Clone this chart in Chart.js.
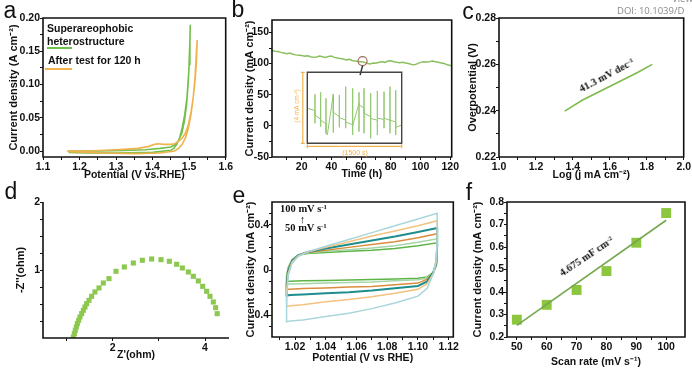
<!DOCTYPE html>
<html>
<head>
<meta charset="utf-8">
<script src="https://cdn.jsdelivr.net/npm/chart.js@4.4.1/dist/chart.umd.min.js"></script>
<style>
  body { margin: 0; width: 692px; height: 368px; overflow: hidden; position: relative; background: #fff;
         font-family: "Liberation Sans", Arial, sans-serif; }
  canvas { position: absolute; }
  .n { position: absolute; white-space: nowrap; line-height: 1; color: #111; }
  .sup { font-size: 65%; vertical-align: 0.5em; }
</style>
</head>
<body>
<script>
// ---------- data ----------
// a: LSV curves (potential V vs RHE, current A cm-2), forward then back
const aGreenV = [1.17, 1.25, 1.32, 1.38, 1.42, 1.45, 1.46, 1.47, 1.48, 1.487, 1.493, 1.497, 1.5, 1.502, 1.503,
                 1.502, 1.499, 1.494, 1.488, 1.481, 1.474, 1.466, 1.458, 1.45, 1.40, 1.30, 1.22, 1.17];
const aGreenJ = [0.000, 0.000, 0.001, 0.002, 0.004, 0.006, 0.009, 0.015, 0.027, 0.045, 0.070, 0.100, 0.130, 0.160, 0.190,
                 0.165, 0.120, 0.080, 0.055, 0.035, 0.020, 0.010, 0.004, 0.001, -0.002, -0.003, -0.003, -0.002];
const aOrangeV = [1.165, 1.22, 1.30, 1.36, 1.39, 1.405, 1.415, 1.43, 1.45, 1.46, 1.47, 1.48, 1.49, 1.498, 1.505, 1.511, 1.516, 1.52, 1.522,
                  1.52, 1.516, 1.511, 1.505, 1.498, 1.49, 1.481, 1.471, 1.46, 1.42, 1.35, 1.26, 1.17];
const aOrangeJ = [0.000, 0.000, 0.002, 0.004, 0.007, 0.010, 0.011, 0.010, 0.010, 0.011, 0.014, 0.019, 0.027, 0.040, 0.058, 0.080, 0.105, 0.135, 0.167,
                  0.150, 0.110, 0.080, 0.055, 0.035, 0.020, 0.010, 0.004, 0.000, -0.003, -0.004, -0.003, -0.001];

// b: chronopotentiometry (time h, current mA cm-2)
const bTime = [0, 2, 4, 6, 8, 10, 12, 14, 16, 18, 20, 22, 24, 26, 28, 30, 32, 34, 36, 38, 40, 42, 44, 46, 48, 50,
               52, 54, 56, 58, 60, 62, 64, 66, 68, 70, 72, 74, 76, 78, 80, 82, 84, 86, 88, 90, 92, 94, 96, 98, 100,
               102, 104, 106, 108, 110, 112, 114, 116, 118, 120, 121];
const bCurrent = [121, 120, 119.5, 118, 117, 116, 117, 115, 114, 113.5, 113, 112, 112.5, 111, 110, 110.5, 112, 111, 110, 111.5, 112,
                  110, 109, 108, 107.5, 106, 107, 105, 104, 103.5, 103, 102, 100.5, 99.5, 101, 100.5, 102, 103, 102, 104, 104.5,
                  103, 102, 101.5, 102, 101, 100, 98.5, 98, 100, 102, 103, 102.5, 103, 104, 103, 102, 101, 100, 98, 97, 96.5];
const bMark = [61, 104];
// b inset: 1500 s window, 4 mA cm-2 span
const insetT = [0, 122, 122, 122, 122, 212, 212, 212, 212, 297, 297, 297, 318, 413, 413, 413, 509, 509, 509, 509,
                610, 610, 610, 610, 721, 721, 721, 721, 822, 822, 822, 822, 901, 901, 901, 901, 1007, 1007, 1007, 1007,
                1113, 1113, 1113, 1113, 1219, 1219, 1219, 1219, 1314, 1314, 1314, 1314, 1405, 1405, 1405, 1405, 1500];
const insetJ = [1.97, 1.85, 2.76, 1.13, 1.6, 1.35, 2.87, 0.94, 1.3, 1.1, 2.54, 0.56, 0.47, 2.76, 0.6, 1.75, 1.5, 2.72, 0.9, 1.45,
                1.3, 3.19, 0.85, 1.2, 1.05, 3.1, 0.47, 1.0, 2.25, 2.87, 0.66, 2.16, 2.0, 3.1, 0.56, 1.69, 1.5, 2.82, 0.28, 1.4,
                1.3, 2.95, 0.47, 1.41, 1.35, 2.91, 0.85, 1.41, 1.3, 3.19, 0.56, 1.3, 1.2, 3.0, 0.47, 0.9, 1.03];

// c: Tafel (log j, overpotential V)
const cLogJ = [1.356, 1.45, 1.55, 1.65, 1.75, 1.83];
const cEta = [0.2398, 0.2445, 0.2485, 0.2525, 0.2565, 0.2600];

// d: Nyquist (Z' ohm, -Z'' ohm)
const dRe = [1.147, 1.169, 1.19, 1.212, 1.234, 1.263, 1.291, 1.328, 1.364, 1.40, 1.436, 1.486, 1.544, 1.616, 1.703, 1.797,
             1.92, 2.072, 2.252, 2.447, 2.642, 2.844, 3.047, 3.227, 3.386, 3.509, 3.639, 3.747, 3.855, 3.95, 4.036, 4.108,
             4.18, 4.23, 4.264];
const dIm = [0.015, 0.064, 0.113, 0.162, 0.211, 0.26, 0.309, 0.358, 0.407, 0.456, 0.505, 0.554, 0.613, 0.677, 0.736, 0.809,
             0.873, 0.981, 1.045, 1.103, 1.143, 1.162, 1.152, 1.128, 1.084, 1.03, 0.971, 0.907, 0.839, 0.76, 0.687, 0.613,
             0.53, 0.446, 0.358];

// e: CV loops at 50-100 mV s-1 (potential V, current mA cm-2)
const eV = [1.0147, 1.0145, 1.0155, 1.018, 1.022, 1.028, 1.04, 1.055, 1.07, 1.085, 1.10, 1.1125,
            1.1125, 1.112, 1.110, 1.106, 1.10, 1.085, 1.07, 1.055, 1.04, 1.025, 1.017, 1.0147];
const eJ100 = [-0.455, -0.25, -0.05, 0.06, 0.12, 0.16, 0.21, 0.27, 0.33, 0.39, 0.45, 0.50,
               0.30, 0.10, -0.03, -0.16, -0.23, -0.29, -0.34, -0.38, -0.41, -0.44, -0.45, -0.455];
const eJ90 = [-0.32, -0.18, -0.03, 0.07, 0.125, 0.16, 0.20, 0.25, 0.30, 0.345, 0.39, 0.435,
              0.25, 0.08, -0.03, -0.12, -0.17, -0.205, -0.235, -0.26, -0.28, -0.305, -0.315, -0.32];
const eJ80 = [-0.225, -0.13, -0.01, 0.08, 0.13, 0.16, 0.19, 0.225, 0.26, 0.295, 0.335, 0.37,
              0.22, 0.07, -0.02, -0.10, -0.14, -0.16, -0.18, -0.195, -0.205, -0.215, -0.22, -0.225];
const eJ70 = [-0.17, -0.10, 0.0, 0.08, 0.13, 0.155, 0.175, 0.20, 0.225, 0.25, 0.285, 0.32,
              0.20, 0.06, -0.02, -0.08, -0.115, -0.13, -0.145, -0.15, -0.158, -0.163, -0.168, -0.17];
const eJ60 = [-0.125, -0.07, 0.01, 0.085, 0.13, 0.15, 0.165, 0.18, 0.195, 0.215, 0.245, 0.275,
              0.18, 0.05, -0.02, -0.07, -0.085, -0.095, -0.105, -0.11, -0.115, -0.12, -0.123, -0.125];
const eJ50 = [-0.10, -0.05, 0.02, 0.09, 0.13, 0.145, 0.155, 0.165, 0.175, 0.19, 0.215, 0.24,
              0.16, 0.04, -0.02, -0.06, -0.072, -0.078, -0.084, -0.088, -0.092, -0.095, -0.098, -0.10];

// f: current density vs scan rate
const fRate = [50, 60, 70, 80, 90, 100];
const fCurrent = [0.277, 0.343, 0.409, 0.493, 0.619, 0.751];
const fFitRate = [50, 100];
const fFitCurrent = [0.252, 0.719];

// tick values and labels
const aXTicks = [1.1, 1.15, 1.2, 1.25, 1.3, 1.35, 1.4, 1.45, 1.5, 1.55, 1.6];
const aXLabels = ['1.1', '', '1.2', '', '1.3', '', '1.4', '', '1.5', '', '1.6'];
const aYTicks = [0, 0.025, 0.05, 0.075, 0.1, 0.125, 0.15, 0.175, 0.2];
const aYLabels = ['0.00', '', '0.05', '', '0.10', '', '0.15', '', '0.20'];
const bXTicks = [10, 20, 30, 40, 50, 60, 70, 80, 90, 100, 110, 120];
const bXLabels = ['', '20', '', '40', '', '60', '', '80', '', '100', '', '120'];
const bYTicks = [-50, -25, 0, 25, 50, 75, 100, 125, 150];
const bYLabels = ['-50', '', '0', '', '50', '', '100', '', '150'];
const cXTicks = [1.0, 1.1, 1.2, 1.3, 1.4, 1.5, 1.6, 1.7, 1.8, 1.9, 2.0];
const cXLabels = ['1.0', '', '1.2', '', '1.4', '', '1.6', '', '1.8', '', '2.0'];
const cYTicks = [0.22, 0.23, 0.24, 0.25, 0.26, 0.27, 0.28];
const cYLabels = ['0.22', '', '0.24', '', '0.26', '', '0.28'];
const dXTicks = [1, 2, 3, 4];
const dXLabels = ['', '2', '', '4'];
const dYTicks = [0.25, 0.5, 0.75, 1, 1.25, 1.5, 1.75, 2];
const dYLabels = ['', '', '', '1', '', '', '', '2'];
const eXTicks = [1.01, 1.02, 1.03, 1.04, 1.05, 1.06, 1.07, 1.08, 1.09, 1.10, 1.11, 1.12];
const eXLabels = ['', '1.02', '', '1.04', '', '1.06', '', '1.08', '', '1.10', '', '1.12'];
const eYTicks = [-0.5, -0.4, -0.3, -0.2, -0.1, 0, 0.1, 0.2, 0.3, 0.4, 0.5];
const eYLabels = ['', '-0.4', '', '', '', '0', '', '', '', '0.4', ''];
const fXTicks = [50, 55, 60, 65, 70, 75, 80, 85, 90, 95, 100];
const fXLabels = ['50', '', '60', '', '70', '', '80', '', '90', '', '100'];
const fYTicks = [0.2, 0.25, 0.3, 0.35, 0.4, 0.45, 0.5, 0.55, 0.6, 0.65, 0.7, 0.75, 0.8];
const fYLabels = ['0.2', '', '0.3', '', '0.4', '', '0.5', '', '0.6', '', '0.7', '', '0.8'];

// ---------- helpers ----------
Chart.defaults.font.family = '"Liberation Sans", Arial, sans-serif';
Chart.defaults.color = '#111';
const tickFamily = '"Liberation Sans Narrow", "Liberation Sans", Arial, sans-serif';

// frame around the plot area (d only has left + bottom axes)
Chart.register({
  id: 'boxFrame',
  afterDraw(chart, args, opts) {
    const a = chart.chartArea, ctx = chart.ctx;
    ctx.save();
    ctx.strokeStyle = opts.color || '#111';
    ctx.lineWidth = opts.width || 1.6;
    ctx.beginPath();
    if (opts.open) {
      ctx.moveTo(a.left, a.top); ctx.lineTo(a.left, a.bottom); ctx.lineTo(a.right, a.bottom);
    } else {
      ctx.rect(a.left, a.top, a.right - a.left, a.bottom - a.top);
    }
    ctx.stroke();
    ctx.restore();
  }
});

function scale(pos, min, max, vals, labs, size, title, tpad, show) {
  return {
    type: 'linear', position: pos, min: min, max: max, display: show !== false,
    afterFit: s => { if (pos === 'left') s.width = size; else s.height = size; },
    afterBuildTicks: s => { s.ticks = vals.map(v => ({ value: v })); },
    ticks: { autoSkip: false, maxRotation: 0, minRotation: 0, padding: pos === 'left' ? 0 : 1, color: '#111',
             font: { family: tickFamily, size: 10.5, weight: 'bold' }, callback: (v, i) => labs[i] },
    grid: { drawOnChartArea: false, tickLength: 3, color: '#111', lineWidth: 1 },
    border: { display: false },
    title: { display: !!title, text: title, color: '#111',
             padding: pos === 'left' ? { top: tpad, bottom: 0 } : { top: 0, bottom: tpad },
             font: { size: pos === 'left' ? 11 : 10.5, weight: 'bold' } }
  };
}

function pts(xs, ys) { return xs.map((x, i) => ({ x: x, y: ys[i] })); }
function line(xs, ys, color, w) {
  return { data: pts(xs, ys), showLine: true, borderColor: color, borderWidth: w, pointRadius: 0, tension: 0, fill: false };
}

function makeChart(box, pad, xs, ys, datasets, frame, extra) {
  const cv = document.createElement('canvas');
  cv.width = box[2]; cv.height = box[3];
  cv.style.left = box[0] + 'px'; cv.style.top = box[1] + 'px';
  cv.style.width = box[2] + 'px'; cv.style.height = box[3] + 'px';
  document.body.appendChild(cv);
  return new Chart(cv, {
    type: 'scatter',
    data: { datasets: datasets },
    options: {
      responsive: false, animation: false, devicePixelRatio: 1,
      layout: { padding: pad },
      scales: { x: xs, y: ys },
      plugins: { legend: { display: false }, tooltip: { enabled: false }, boxFrame: frame || {} }
    },
    plugins: extra || []
  });
}

// ---------- panel a ----------
makeChart([0, 0, 234, 181], { top: 18, right: 5 },
  scale('bottom', 1.1, 1.6, aXTicks, aXLabels, 24, 'Potential (V vs.RHE)', 0),
  scale('left', -0.009, 0.2, aYTicks, aYLabels, 43, 'Current density (A cm⁻²)', 7.5),
  [line(aOrangeV, aOrangeJ, '#f0b24e', 1.6), line(aGreenV, aGreenJ, '#72c04c', 1.6)]);

// ---------- panel b ----------
const bMarker = {
  id: 'bMarker',
  afterDraw(chart) {
    const ctx = chart.ctx;
    const px = chart.scales.x.getPixelForValue(bMark[0]);
    const py = chart.scales.y.getPixelForValue(bMark[1]);
    ctx.save();
    ctx.strokeStyle = '#a0705a'; ctx.lineWidth = 1.2;
    ctx.beginPath(); ctx.arc(px, py, 4.5, 0, Math.PI * 2); ctx.stroke();
    ctx.strokeStyle = '#333'; ctx.lineWidth = 1.5;
    ctx.beginPath(); ctx.moveTo(px, py + 4.5); ctx.lineTo(px - 2.5, py + 14); ctx.stroke();
    ctx.restore();
  }
};
makeChart([232, 0, 228, 181], { top: 20, right: 3 },
  scale('bottom', 0, 121, bXTicks, bXLabels, 24, 'Time (h)', 1),
  scale('left', -50, 170, bYTicks, bYLabels, 40, 'Current density (mA cm⁻²)', 11.5),
  [line(bTime, bCurrent, '#8cc05e', 1.5)], {}, [bMarker]);

// inset with orange scale brackets
const insetMarks = {
  id: 'insetMarks',
  afterDraw(chart) {
    const a = chart.chartArea, ctx = chart.ctx;
    ctx.save();
    ctx.strokeStyle = '#f0b24e'; ctx.lineWidth = 1.2;
    const bx = a.left - 4.5, by = a.bottom + 3;
    ctx.beginPath();
    ctx.moveTo(bx - 2, a.top); ctx.lineTo(bx + 2, a.top);
    ctx.moveTo(bx, a.top); ctx.lineTo(bx, a.bottom);
    ctx.moveTo(bx - 2, a.bottom); ctx.lineTo(bx + 2, a.bottom);
    ctx.moveTo(a.left, by - 2); ctx.lineTo(a.left, by + 2);
    ctx.moveTo(a.left, by); ctx.lineTo(a.right, by);
    ctx.moveTo(a.right, by - 2); ctx.lineTo(a.right, by + 2);
    ctx.stroke();
    ctx.restore();
  }
};
makeChart([290, 66, 116, 92], { left: 17.3, top: 6.3, right: 4.3, bottom: 14.7 },
  scale('bottom', 0, 1500, [], [], 0, '', 0, false),
  scale('left', 0, 4, [], [], 0, '', 0, false),
  [line(insetT, insetJ, '#93c870', 1)], { color: '#444', width: 1.4 }, [insetMarks]);

// ---------- panel c ----------
makeChart([460, 0, 232, 181], { top: 18, right: 3 },
  scale('bottom', 1.0, 2.0, cXTicks, cXLabels, 24, 'Log (j mA cm⁻²)', 0),
  scale('left', 0.22, 0.28, cYTicks, cYLabels, 39, 'Overpotential (V)', 6.5),
  [line(cLogJ, cEta, '#7dbb4a', 1.6)]);

// ---------- panel d ----------
makeChart([0, 182, 234, 186], { top: 20, right: 5 },
  scale('bottom', 0.49, 4.52, dXTicks, dXLabels, 30, "Z'(ohm)", 7),
  scale('left', 0, 2, dYTicks, dYLabels, 43, "-Z''(ohm)", 14),
  [{ data: pts(dRe, dIm), pointStyle: 'rect', pointRadius: 3.6, backgroundColor: '#8cc84e', borderWidth: 0, showLine: false }],
  { open: true });

// ---------- panel e ----------
makeChart([232, 182, 228, 186], { top: 20, right: 3 },
  scale('bottom', 1.005, 1.123, eXTicks, eXLabels, 31, 'Potential (V vs RHE)', 4),
  scale('left', -0.59, 0.6, eYTicks, eYLabels, 40, 'Current density (mA cm⁻²)', 12.5),
  [line(eV, eJ100, '#a9d6da', 1.5), line(eV, eJ90, '#f3c27f', 1.5), line(eV, eJ80, '#1e8d8d', 2),
   line(eV, eJ70, '#d98d3e', 1.5), line(eV, eJ60, '#a4d6a8', 1.5), line(eV, eJ50, '#5db447', 1.5)]);

// ---------- panel f ----------
makeChart([460, 182, 232, 186], { top: 20, right: 2 },
  scale('bottom', 46.7, 106.3, fXTicks, fXLabels, 31, 'Scan rate (mV s⁻¹)', 0),
  scale('left', 0.2, 0.8, fYTicks, fYLabels, 47, 'Current density (mA cm⁻²)', 11.5),
  [line(fFitRate, fFitCurrent, '#74a84e', 1.6),
   { data: pts(fRate, fCurrent), pointStyle: 'rect', pointRadius: 7, backgroundColor: '#8cc63f', borderWidth: 0, showLine: false }]);

// ---------- text overlays ----------
function note(html, x, y, css, rot, left) {
  const d = document.createElement('div');
  d.className = 'n';
  d.innerHTML = html;
  d.style.cssText += css;
  d.style.left = x + 'px'; d.style.top = y + 'px';
  d.style.transform = (left ? 'translate(0,-50%)' : 'translate(-50%,-50%)') + (rot ? ' rotate(' + rot + 'deg)' : '');
  document.body.appendChild(d);
}
function bar(x, y, w, color) {
  const d = document.createElement('div');
  d.style.cssText = 'position:absolute;height:2px;left:' + x + 'px;top:' + (y - 1) + 'px;width:' + w + 'px;background:' + color;
  document.body.appendChild(d);
}
const letterCss = 'font-size:23px;';
note('a', 10, 10, letterCss); note('b', 238, 9, letterCss); note('c', 468, 11, letterCss);
note('d', 11, 191, letterCss); note('e', 239, 195, letterCss); note('f', 469, 192, letterCss);

note('DOI: 10.1039/D', 617, 11, 'font-size:9.5px;color:#8a8a8a;font-family:"Open Sans",sans-serif;', 0, true);
note('View Article Online', 672, -1, 'font-size:9.5px;color:#8a8a8a;font-family:"Open Sans",sans-serif;', 0, true);

// legend of a
const legCss = 'font-size:10.5px;font-weight:bold;';
note('Superareophobic', 47, 27.5, legCss, 0, true);
note('heterostructure', 47, 41, legCss, 0, true);
bar(47, 48, 25, '#72c04c');
note('After test for 120 h', 48, 60, 'font-size:10.5px;font-weight:bold;', 0, true);
bar(45, 69, 27, '#f0b24e');

// b inset labels
note('(4 mA cm<span class="sup">-2</span>)', 297, 106, 'font-size:6.5px;color:#f0b24e;', -90);
note('(1500 s)', 355, 152, 'font-size:7px;color:#f0b24e;');

// slopes
const serifCss = 'font-family:"Liberation Serif","Times New Roman",serif;font-weight:bold;font-size:10.5px;';
note('41.3 mV dec<span class="sup">-1</span>', 607, 76, serifCss, -28);
note('4.675 mF cm<span class="sup">-2</span>', 587, 257, serifCss, -34);

// e scan-rate labels
note('100 mV s<span class="sup">-1</span>', 280, 209, serifCss, 0, true);
note('&#8593;', 302.5, 219, 'font-size:11px;font-weight:bold;');
note('50 mV s<span class="sup">-1</span>', 285, 228, serifCss, 0, true);
</script>
</body>
</html>
